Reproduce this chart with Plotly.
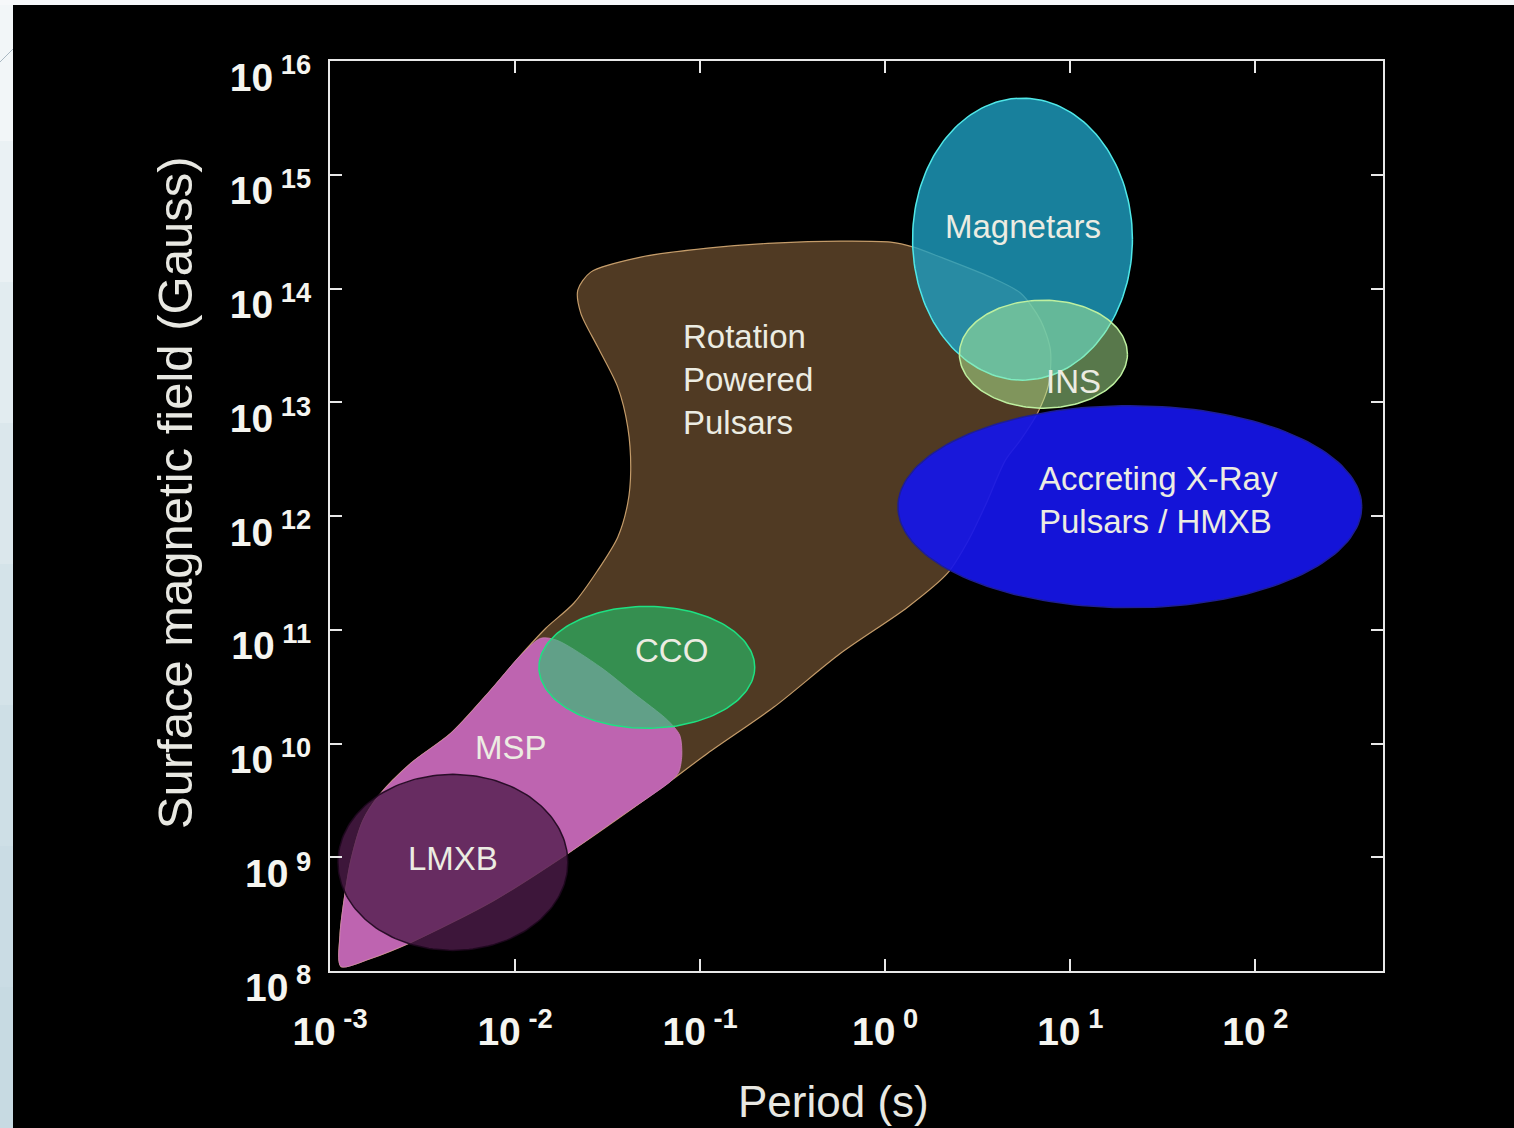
import numpy as np
import plotly.graph_objects as go

# ---- axis decades ----
period_exponents = [-3, -2, -1, 0, 1, 2]
field_exponents = [8, 9, 10, 11, 12, 13, 14, 15, 16]

# ---- irregular regions, outlines in (log10 P [s], log10 B [G]) ----
rpp_logP = [-2.941, -2.946, -2.924, -2.887, -2.822, -2.735, -2.563, -2.347, -2.147, -1.969,
            -1.834, -1.683, -1.553, -1.445, -1.391, -1.375, -1.391, -1.445, -1.553, -1.645,
            -1.661, -1.591, -1.321, -0.959, -0.603, -0.241, 0.029, 0.153, 0.299, 0.569,
            0.731, 0.839, 0.893, 0.882, 0.823, 0.731, 0.650, 0.542, 0.450, 0.337,
            0.121, -0.241, -0.603, -0.959, -1.229, -1.715, -2.114, -2.563, -2.779, -2.941]
rpp_logB = [8.040, 8.313, 8.621, 8.973, 9.324, 9.544, 9.826, 10.090, 10.441, 10.776,
            11.013, 11.233, 11.523, 11.814, 12.113, 12.403, 12.781, 13.133, 13.485, 13.784,
            13.986, 14.144, 14.276, 14.355, 14.399, 14.417, 14.408, 14.364, 14.276, 14.100,
            13.960, 13.722, 13.458, 13.150, 12.904, 12.667, 12.491, 12.095, 11.787, 11.497,
            11.198, 10.793, 10.318, 9.914, 9.588, 9.034, 8.621, 8.252, 8.111, 8.040]

msp_logP = [-2.941, -2.946, -2.924, -2.887, -2.822, -2.735, -2.563, -2.347, -2.147, -1.969,
            -1.861, -1.774, -1.537, -1.359, -1.175, -1.110, -1.099, -1.116, -1.159, -1.429,
            -1.715, -2.114, -2.563, -2.779, -2.941]
msp_logB = [8.040, 8.313, 8.621, 8.973, 9.324, 9.544, 9.826, 10.090, 10.441, 10.776,
            10.925, 10.908, 10.670, 10.441, 10.204, 10.072, 9.896, 9.747, 9.668, 9.360,
            9.034, 8.621, 8.252, 8.111, 8.040]

# ---- elliptical classes: centre and half-widths in decades ----
ell_names = ["CCO", "LMXB", "Magnetars", "INS", "Accreting"]
ell_cx = [-1.288, -2.336, 0.742, 0.855, 1.322]
ell_cy = [10.670, 8.955, 14.434, 13.423, 12.082]
ell_rx = [0.583, 0.621, 0.594, 0.454, 1.253]
ell_ry = [0.536, 0.774, 1.240, 0.475, 0.888]
ell_fill = ["rgba(35,200,110,0.60)", "rgba(78,28,74,0.78)", "rgba(30,160,195,0.80)",
            "rgba(175,240,150,0.50)", "rgba(22,22,232,0.93)"]
ell_line = ["rgb(30,225,130)", "rgba(30,8,30,0.9)", "rgb(80,232,232)",
            "rgb(190,240,160)", "rgb(30,30,150)"]

# ---- region labels ----
label_text = ["Rotation<br>Powered<br>Pulsars", "Magnetars", "INS",
              "Accreting X-Ray<br>Pulsars / HMXB", "CCO", "MSP", "LMXB"]
label_logP = [-1.105, 0.742, 1.017, 0.823, -1.153, -2.023, -2.336]
label_logB = [13.203, 14.549, 13.186, 12.139, 10.820, 9.967, 8.990]
label_anchor = ["left", "center", "center", "left", "center", "center", "center"]

TXT = "rgb(236,236,226)"
FONT = "Liberation Sans, Arial, Helvetica, sans-serif"

fig = go.Figure()

fig.add_trace(go.Scatter(
    x=[10 ** v for v in rpp_logP], y=[10 ** v for v in rpp_logB],
    mode="lines", fill="toself", fillcolor="rgb(80,58,35)",
    line=dict(color="rgb(196,156,106)", width=1.2, shape="spline", smoothing=0.8),
    hoverinfo="skip", showlegend=False))

fig.add_trace(go.Scatter(
    x=[10 ** v for v in msp_logP], y=[10 ** v for v in msp_logB],
    mode="lines", fill="toself", fillcolor="rgb(190,100,176)",
    line=dict(color="rgb(205,125,185)", width=0.8, shape="spline", smoothing=0.8),
    hoverinfo="skip", showlegend=False))

# ellipses are round in log-log space
theta = np.linspace(0, 2 * np.pi, 181)
for name, cx, cy, rx, ry, fc, lc in zip(ell_names, ell_cx, ell_cy, ell_rx, ell_ry,
                                         ell_fill, ell_line):
    fig.add_trace(go.Scatter(
        x=10 ** (cx + rx * np.cos(theta)), y=10 ** (cy + ry * np.sin(theta)),
        mode="lines", fill="toself", fillcolor=fc, line=dict(color=lc, width=1.5),
        name=name, hoverinfo="skip", showlegend=False))

# slide backdrop: pale strips along the left and top edges
shapes = []
strip_cols = ["rgb(242,246,248)", "rgb(234,241,244)", "rgb(226,236,240)", "rgb(219,231,236)",
              "rgb(212,227,233)", "rgb(206,223,230)", "rgb(202,220,228)", "rgb(199,218,226)"]
n = len(strip_cols)
for i, c in enumerate(strip_cols):
    shapes.append(dict(type="rect", xref="paper", yref="paper",
                       xsizemode="pixel", ysizemode="pixel", xanchor=0, yanchor=1,
                       x0=-330, x1=-317, y0=61 - 1128 * (i + 1) / n - 1, y1=61 - 1128 * i / n,
                       fillcolor=c, line=dict(width=0), layer="below"))
shapes.append(dict(type="rect", xref="paper", yref="paper",
                   xsizemode="pixel", ysizemode="pixel", xanchor=0, yanchor=1,
                   x0=-330, x1=1184, y0=56, y1=61,
                   fillcolor="rgb(246,248,250)", line=dict(width=0), layer="below"))
shapes.append(dict(type="line", xref="paper", yref="paper",
                   xsizemode="pixel", ysizemode="pixel", xanchor=0, yanchor=1,
                   x0=-330, x1=-317, y0=-1, y1=12,
                   line=dict(color="rgb(170,185,195)", width=1), layer="below"))

annotations = []
for t, lp, lb, al in zip(label_text, label_logP, label_logB, label_anchor):
    annotations.append(dict(text=t, x=lp, y=lb, xref="x", yref="y", showarrow=False,
                            xanchor=al, yanchor="middle", align="left",
                            font=dict(family=FONT, size=33, color=TXT)))

# axis titles
annotations.append(dict(text="Period (s)", xref="paper", yref="paper",
                        x=0.4786, y=-0.1429, xanchor="center", yanchor="middle",
                        showarrow=False,
                        font=dict(family=FONT, size=44, color="rgb(232,232,226)")))
annotations.append(dict(text="Surface magnetic field (Gauss)", xref="paper", yref="paper",
                        x=-0.147, y=0.5253, xanchor="center", yanchor="middle",
                        textangle=-90, showarrow=False,
                        font=dict(family=FONT, size=49, color="rgb(232,232,226)")))

axis_common = dict(
    type="log", showgrid=False, zeroline=False,
    showline=True, linecolor="rgb(232,232,232)", linewidth=2, mirror="ticks",
    ticks="inside", ticklen=12, tickwidth=1.5, tickcolor="rgb(232,232,232)",
    tickfont=dict(family=FONT, size=39, color="rgb(245,245,240)", weight="bold"),
)

fig.update_layout(
    width=1514, height=1128,
    margin=dict(l=330, r=131, t=61, b=157),
    paper_bgcolor="black", plot_bgcolor="black",
    xaxis=dict(axis_common, range=[-3, 2.69],
               tickvals=[10 ** k for k in period_exponents],
               ticktext=[f"10<sup> {k}</sup>" for k in period_exponents],
               ticklabelstandoff=25),
    yaxis=dict(axis_common, range=[8, 16],
               tickvals=[10 ** k for k in field_exponents],
               ticktext=[f"10<sup> {k}</sup>" for k in field_exponents],
               ticklabelstandoff=9, ticklabelshift=16),
    shapes=shapes, annotations=annotations, showlegend=False,
)

fig.write_html("out.html")
